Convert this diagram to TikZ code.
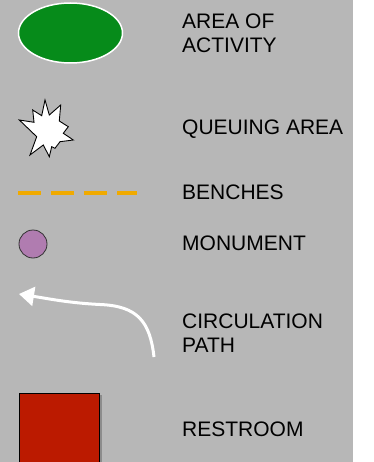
\documentclass[tikz,border=0pt]{standalone}
\usepackage{fontspec}
\setmainfont{Liberation Sans}
\usetikzlibrary{arrows.meta,shapes.geometric}
\definecolor{bggray}{HTML}{B7B7B7}
\definecolor{actgreen}{HTML}{068B1A}
\definecolor{monpurple}{HTML}{B07CB0}
\definecolor{benchorange}{HTML}{F0AA00}
\definecolor{restred}{HTML}{BB1A00}
\tikzset{
  lbl/.style={anchor=base west, inner sep=0pt, align=left, font=\fontsize{21}{24}\selectfont, text=black},
}
\begin{document}
\begin{tikzpicture}[x=1pt,y=-1pt]
\useasboundingbox (0,0) rectangle (373,462);
\fill[white] (0,0) rectangle (373,462);
\fill[bggray] (0,0) rectangle (353,462);
% area of activity
\node[draw=white, line width=1.5pt, fill=actgreen, ellipse, minimum width=104pt, minimum height=60pt, inner sep=0pt] (act) at (70.5,33) {};
\node[lbl] (actlbl) at (182,53) {AREA OF\\ACTIVITY};
% queuing star
\draw[fill=white, draw=black, line width=0.9pt, line join=miter] (45,100) -- (49.3,115) -- (60.7,105) -- (59.3,121) -- (68.3,126.7) -- (63.3,133.3) -- (73.3,140) -- (60,141.7) -- (55,148.3) -- (51.7,146.7) -- (49.3,156.7) -- (43.3,145) -- (30,155) -- (36.7,136.7) -- (19.3,120) -- (34,122.3) -- (32.7,110) -- (41.7,115.7) -- cycle;
\node[lbl] (qlbl) at (182,135) {QUEUING AREA};
% benches
\draw[benchorange, line width=3.5pt, dash pattern=on 23pt off 10pt] (18,193) -- (137,193);
\node[lbl] (blbl) at (182,199) {BENCHES};
% monument
\node[circle, draw=black!80, line width=0.8pt, fill=monpurple, minimum size=28pt, inner sep=0pt] (mon) at (33,244) {};
\node[lbl] (mlbl) at (182,250) {MONUMENT};
% circulation
\draw[white, line width=3pt, -{Triangle[length=15pt,width=19pt]}] (154,357) .. controls (150,322) and (138,306) .. (100,304.5) .. controls (70,303) and (50,299) .. (19,294);
\node[lbl] (clbl) at (182,352) {CIRCULATION\\PATH};
% restroom
\fill[black!45] (100,395) rectangle (101.5,462);
\draw[fill=restred, draw=black, line width=1pt] (19,393.5) rectangle (99.5,463);
\node[lbl] (rlbl) at (182,436) {RESTROOM};
\end{tikzpicture}
\end{document}
